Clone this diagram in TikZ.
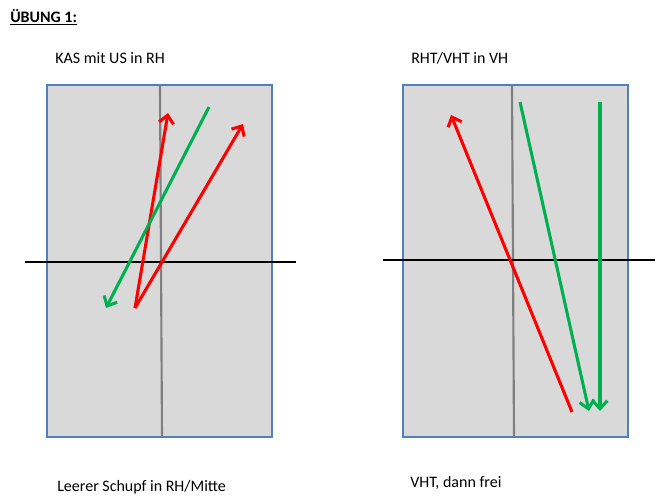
\documentclass[tikz,border=0pt]{standalone}
\usepackage{fontspec}
\setmainfont{Carlito}
\usetikzlibrary{arrows.meta}
\definecolor{panelfill}{HTML}{D9D9D9}
\definecolor{panelborder}{HTML}{4F81BD}
\definecolor{arrred}{HTML}{FF0000}
\definecolor{arrgreen}{HTML}{00B050}
\definecolor{axisgray}{HTML}{7F7F7F}
\tikzset{
  panel/.style={draw=panelborder, fill=panelfill, line width=1pt},
  vaxis/.style={draw=axisgray, line width=1.6pt},
  haxis/.style={draw=black, line width=1.5pt},
  redarr/.style={draw=arrred, line width=2.3pt, -{Straight Barb[length=6pt,width=11pt]}},
  greenarr/.style={draw=arrgreen, line width=2.3pt, -{Straight Barb[length=6pt,width=11pt]}},
  lbl/.style={anchor=west, inner sep=0pt, font=\fontsize{12pt}{14pt}\selectfont}
}
\begin{document}
\begin{tikzpicture}[x=0.75pt,y=-0.75pt]
\useasboundingbox (0,0) rectangle (661,500);
% title
\node[anchor=west, inner sep=0pt, font=\fontsize{12pt}{14pt}\selectfont\bfseries] (title) at (10,17) {\underline{ÜBUNG 1:}};
\node[lbl] (tl) at (55,58) {KAS mit US in RH};
\node[lbl] (tr) at (411,58) {RHT/VHT in VH};
\node[lbl] (bl) at (57,487) {Leerer Schupf in RH/Mitte};
\node[lbl] (br) at (410,483) {VHT, dann frei};
% left panel
\path[panel] (47,85) rectangle (272,437);
\draw[vaxis] (160,85) -- (162,437);
\draw[haxis] (25,262) -- (296,262);
\coordinate (la) at (135,308);
\coordinate (lb) at (168,113);
\coordinate (lc) at (243,124);
\coordinate (ld) at (209,107);
\coordinate (le) at (106,308);
\draw[redarr] (la) -- (lb);
\draw[redarr] (la) -- (lc);
\draw[greenarr] (ld) -- (le);
% right panel
\path[panel] (403,85) rectangle (628,437);
\draw[vaxis] (512,85) -- (514,437);
\draw[haxis] (383,260) -- (655,260);
\coordinate (ra) at (572,412);
\coordinate (rb) at (451,115);
\coordinate (rc) at (520,102);
\coordinate (rd) at (589,411);
\coordinate (re) at (600,102);
\coordinate (rf) at (600,411);
\draw[redarr] (ra) -- (rb);
\draw[greenarr] (rc) -- (rd);
\draw[greenarr] (re) -- (rf);
\end{tikzpicture}
\end{document}
